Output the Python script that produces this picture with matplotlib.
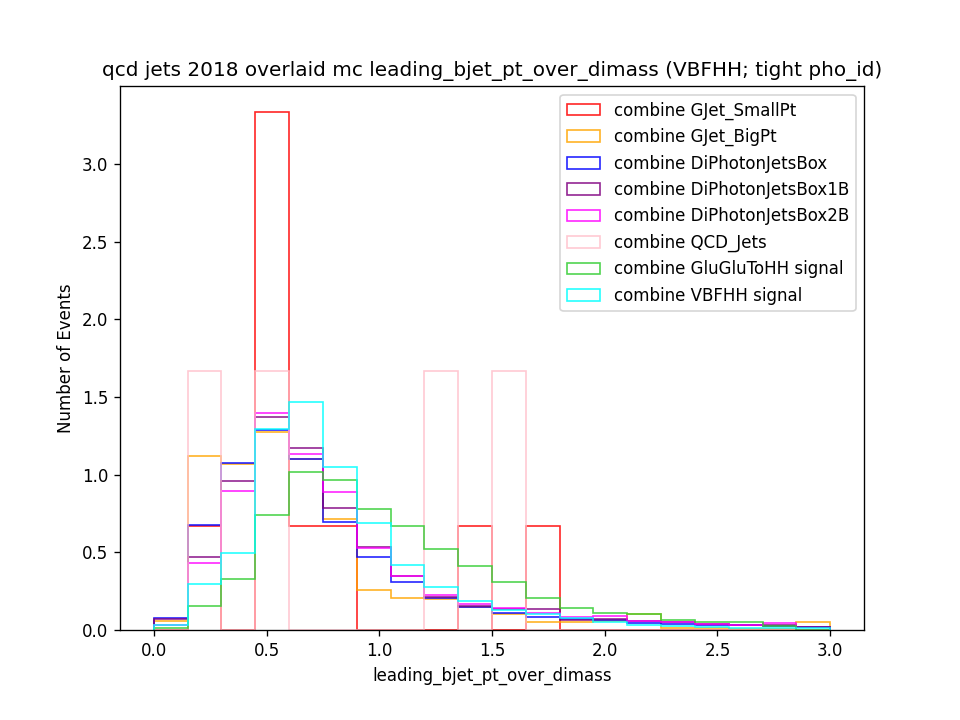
import numpy as np
import matplotlib
matplotlib.use('Agg')
import matplotlib.pyplot as plt

# 20 bins of width 0.15 between 0 and 3
bin_edges = np.linspace(0, 3, 21)

gjet_smallpt = [0, 0.667, 0, 3.333, 0.667, 0.667, 0, 0, 0, 0.667,
                0, 0.667, 0, 0, 0, 0, 0, 0, 0, 0]
gjet_bigpt = [0.055, 1.12, 1.067, 1.277, 1.10, 0.717, 0.258, 0.208, 0.20, 0.15,
              0.103, 0.054, 0.054, 0.06, 0.105, 0.012, 0.01, 0.005, 0.005, 0.054]
diphoton_box = [0.08, 0.678, 1.075, 1.29, 1.103, 0.698, 0.472, 0.309, 0.206, 0.15,
                0.112, 0.086, 0.07, 0.064, 0.045, 0.039, 0.035, 0.03, 0.025, 0.022]
diphoton_box1b = [0.07, 0.472, 0.961, 1.374, 1.174, 0.788, 0.534, 0.345, 0.21, 0.155,
                  0.135, 0.135, 0.064, 0.07, 0.058, 0.049, 0.04, 0.03, 0.03, 0.022]
diphoton_box2b = [0.03, 0.433, 0.897, 1.40, 1.133, 0.888, 0.528, 0.35, 0.227, 0.17,
                  0.14, 0.109, 0.086, 0.092, 0.058, 0.049, 0.041, 0.032, 0.043, 0.0]
qcd_jets = [0, 1.667, 0, 1.667, 0, 0, 0, 0, 1.667, 0,
            1.667, 0, 0, 0, 0, 0, 0, 0, 0, 0]
gluglu_hh = [0.015, 0.155, 0.328, 0.742, 1.017, 0.968, 0.779, 0.67, 0.524, 0.412,
             0.309, 0.206, 0.143, 0.112, 0.1, 0.064, 0.049, 0.049, 0.028, 0.0]
vbf_hh = [0.035, 0.296, 0.498, 1.294, 1.468, 1.05, 0.689, 0.418, 0.279, 0.187,
          0.129, 0.104, 0.077, 0.054, 0.032, 0.028, 0.02, 0.015, 0.01, 0.012]

samples = [
    ('combine GJet_SmallPt', gjet_smallpt, 'red'),
    ('combine GJet_BigPt', gjet_bigpt, 'orange'),
    ('combine DiPhotonJetsBox', diphoton_box, 'blue'),
    ('combine DiPhotonJetsBox1B', diphoton_box1b, 'purple'),
    ('combine DiPhotonJetsBox2B', diphoton_box2b, 'magenta'),
    ('combine QCD_Jets', qcd_jets, 'pink'),
    ('combine GluGluToHH signal', gluglu_hh, 'limegreen'),
    ('combine VBFHH signal', vbf_hh, 'cyan'),
]

fig = plt.figure(figsize=(8, 6), dpi=120)
centers = bin_edges[:-1] + 0.075
for label, vals, col in samples:
    plt.hist(centers, bins=bin_edges, weights=vals, histtype='step',
             color=col, alpha=0.85, label=label)

plt.title('qcd jets 2018 overlaid mc leading_bjet_pt_over_dimass (VBFHH; tight pho_id)')
plt.xlabel('leading_bjet_pt_over_dimass')
plt.ylabel('Number of Events')
plt.legend(loc='upper right')
plt.subplots_adjust(bottom=0.125)

plt.savefig('out.png', dpi=120)
